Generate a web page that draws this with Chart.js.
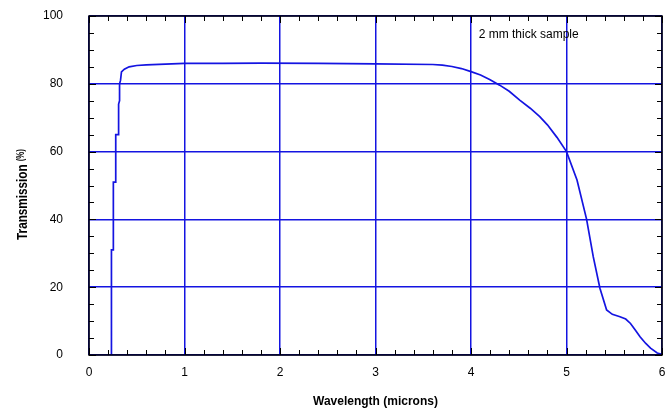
<!DOCTYPE html>
<html>
<head>
<meta charset="utf-8">
<script src="https://cdn.jsdelivr.net/npm/chart.js@4/dist/chart.umd.min.js"></script>
<style>
  html, body { margin: 0; padding: 0; background: #fff; }
  #wrap { width: 669px; height: 409px; }
</style>
</head>
<body>
<div id="wrap"><canvas id="grafico"></canvas></div>
<script>
// curva de transmisión
const longitudOnda = [0.235, 0.235, 0.255, 0.255, 0.28, 0.28, 0.31, 0.31, 0.32, 0.32, 0.33, 0.34, 0.37, 0.42, 0.5, 0.6, 0.8, 1.0, 1.4, 1.8, 2.4, 3.0, 3.6, 3.7, 3.8, 3.9, 4.0, 4.1, 4.2, 4.3, 4.4, 4.51, 4.62, 4.72, 4.8, 4.9, 5.0, 5.11, 5.21, 5.28, 5.35, 5.42, 5.48, 5.56, 5.62, 5.67, 5.72, 5.77, 5.83, 5.88, 5.95, 6.0];
const transmision = [0, 31, 31, 51, 51, 65, 65, 74, 75, 80, 81, 83.5, 84.3, 85, 85.4, 85.6, 85.8, 86.0, 86.0, 86.1, 86.0, 85.9, 85.7, 85.5, 85.1, 84.5, 83.6, 82.6, 81.2, 79.6, 77.8, 75.2, 72.8, 70.3, 67.9, 64.2, 60.0, 51.6, 40.1, 29.0, 19.7, 13.3, 12, 11.3, 10.6, 9.3, 7.4, 5.4, 3.4, 2.0, 0.6, 0.2];

const ticksX = [0, 1, 2, 3, 4, 5, 6];
const ticksY = [0, 20, 40, 60, 80, 100];
const nota = { x: 4.08, y: 94.5, texto: '2 mm thick sample' };

const azul = 'rgb(20,20,225)';
const puntos = longitudOnda.map((x, i) => ({ x: x, y: transmision[i] }));

// marco, marcas hacia dentro, títulos y nota
const marco = {
  id: 'marco',
  afterDraw(chart) {
    const { ctx, chartArea: a, scales: { x, y } } = chart;
    ctx.save();
    ctx.strokeStyle = '#000';
    ctx.lineWidth = 1;
    ctx.beginPath();
    for (let v = 0; v <= 6.0001; v += 0.2) {
      const px = Math.round(x.getPixelForValue(v)) + 0.5;
      const len = Math.abs(v - Math.round(v)) < 0.001 ? 7 : 5;
      ctx.moveTo(px, a.bottom); ctx.lineTo(px, a.bottom - len);
      ctx.moveTo(px, a.top); ctx.lineTo(px, a.top + len);
    }
    for (let v = 0; v <= 100; v += 5) {
      const py = Math.round(y.getPixelForValue(v)) + 0.5;
      const len = v % 20 === 0 ? 7 : 5;
      ctx.moveTo(a.left, py); ctx.lineTo(a.left + len, py);
      ctx.moveTo(a.right, py); ctx.lineTo(a.right - len, py);
    }
    ctx.stroke();
    ctx.lineWidth = 1.5;
    ctx.strokeRect(a.left, a.top, a.right - a.left, a.bottom - a.top);

    // nota
    ctx.fillStyle = '#000';
    ctx.font = '12px "Liberation Sans", Arial, sans-serif';
    ctx.textAlign = 'left';
    ctx.textBaseline = 'middle';
    ctx.fillText(nota.texto, x.getPixelForValue(nota.x), y.getPixelForValue(nota.y));

    // título eje x
    ctx.font = 'bold 12px "Liberation Sans", Arial, sans-serif';
    ctx.textAlign = 'center';
    ctx.textBaseline = 'alphabetic';
    ctx.fillText('Wavelength (microns)', (a.left + a.right) / 2, 405);

    // título eje y, estrecho, con "(%)" más pequeño
    ctx.translate(23, (a.top + a.bottom) / 2 + 9);
    ctx.rotate(-Math.PI / 2);
    ctx.scale(0.78, 1);
    const f1 = 'bold 15px "Liberation Sans", Arial, sans-serif';
    const f2 = 'bold 10px "Liberation Sans", Arial, sans-serif';
    ctx.font = f1;
    const w1 = ctx.measureText('Transmission ').width;
    ctx.font = f2;
    const w2 = ctx.measureText('(%)').width;
    const x0 = -(w1 + w2) / 2;
    ctx.textAlign = 'left';
    ctx.textBaseline = 'middle';
    ctx.font = f1;
    ctx.fillText('Transmission ', x0, 0);
    ctx.font = f2;
    ctx.fillText('(%)', x0 + w1, -2);
    ctx.restore();
  }
};

document.addEventListener('DOMContentLoaded', function() {
  const ctx = document.getElementById('grafico').getContext('2d');
  new Chart(ctx, {
    type: 'scatter',
    data: {
      datasets: [{
        data: puntos,
        showLine: true,
        borderColor: azul,
        borderWidth: 1.7,
        pointRadius: 0,
        tension: 0
      }]
    },
    options: {
      responsive: true,
      maintainAspectRatio: false,
      animation: false,
      layout: { padding: { left: 0, right: 7, top: 16, bottom: 0 } },
      plugins: {
        legend: { display: false },
        tooltip: { enabled: false }
      },
      scales: {
        x: {
          type: 'linear',
          min: 0, max: 6,
          afterFit: s => { s.height = 54; s.paddingLeft = 0; s.paddingRight = 0; },
          afterBuildTicks: s => { s.ticks = ticksX.map(v => ({ value: v })); },
          grid: { color: azul, lineWidth: 1.5, drawTicks: false },
          border: { display: false },
          ticks: {
            padding: 10,
            color: '#000',
            maxRotation: 0,
            font: { family: '"Liberation Sans", Arial, sans-serif', size: 12 }
          }
        },
        y: {
          min: 0, max: 100,
          afterFit: s => { s.width = 89; s.paddingTop = 0; s.paddingBottom = 0; },
          afterBuildTicks: s => { s.ticks = ticksY.map(v => ({ value: v })); },
          grid: { color: azul, lineWidth: 1.5, drawTicks: false },
          border: { display: false },
          ticks: {
            padding: 26,
            color: '#000',
            font: { family: '"Liberation Sans", Arial, sans-serif', size: 12 }
          }
        }
      }
    },
    plugins: [marco]
  });
});
</script>
</body>
</html>
